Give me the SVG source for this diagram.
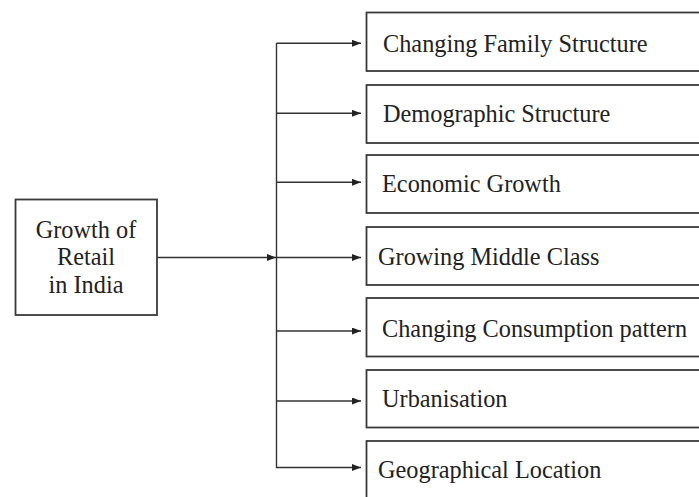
<svg xmlns="http://www.w3.org/2000/svg" width="699" height="497" viewBox="0 0 699 497">
<style>
.box{fill:#fff;stroke:#3a3a3a;stroke-width:1.8}
.t{font-family:"Liberation Serif","Times New Roman",serif;font-size:24.3px;fill:#222}
.c{fill:none;stroke:#333;stroke-width:1.4}
</style>
<defs>
<marker id="ah" markerWidth="9" markerHeight="7" refX="9" refY="3.5" orient="auto" markerUnits="userSpaceOnUse">
<path d="M0,0 L9,3.5 L0,7 Z" fill="#222"/>
</marker>
</defs>
<rect width="699" height="497" fill="#fff"/>
<g id="connectors">
<line class="c" x1="157" y1="257.5" x2="276" y2="257.5" marker-end="url(#ah)"/>
<line class="c" x1="276.5" y1="43" x2="276.5" y2="468"/>
<line class="c" x1="276.5" y1="43.3" x2="361" y2="43.3" marker-end="url(#ah)"/>
<line class="c" x1="276.5" y1="113.3" x2="361" y2="113.3" marker-end="url(#ah)"/>
<line class="c" x1="276.5" y1="182.3" x2="361" y2="182.3" marker-end="url(#ah)"/>
<line class="c" x1="276.5" y1="257.5" x2="361" y2="257.5" marker-end="url(#ah)"/>
<line class="c" x1="276.5" y1="331" x2="361" y2="331" marker-end="url(#ah)"/>
<line class="c" x1="276.5" y1="401" x2="361" y2="401" marker-end="url(#ah)"/>
<line class="c" x1="276.5" y1="467.5" x2="361" y2="467.5" marker-end="url(#ah)"/>
</g>
<g id="root">
<rect class="box" x="15.5" y="199.5" width="141.5" height="115.5"/>
<text class="t" x="86" y="238" text-anchor="middle">Growth of</text>
<text class="t" x="86" y="265" text-anchor="middle">Retail</text>
<text class="t" x="86" y="292.5" text-anchor="middle">in India</text>
</g>
<g id="n1"><rect class="box" x="366.5" y="12.5" width="345" height="58.5"/><text class="t" x="383" y="51.5">Changing Family Structure</text></g>
<g id="n2"><rect class="box" x="366.5" y="85" width="345" height="58"/><text class="t" x="383" y="121.5">Demographic Structure</text></g>
<g id="n3"><rect class="box" x="366.5" y="155" width="345" height="58"/><text class="t" x="382" y="191.5">Economic Growth</text></g>
<g id="n4"><rect class="box" x="366.5" y="227" width="345" height="58"/><text class="t" x="378" y="265">Growing Middle Class</text></g>
<g id="n5"><rect class="box" x="366.5" y="298" width="345" height="58.5"/><text class="t" x="382" y="336.5">Changing Consumption pattern</text></g>
<g id="n6"><rect class="box" x="366.5" y="370" width="345" height="57.5"/><text class="t" x="382" y="406.5">Urbanisation</text></g>
<g id="n7"><rect class="box" x="366.5" y="441" width="345" height="70"/><text class="t" x="378" y="478">Geographical Location</text></g>
</svg>
